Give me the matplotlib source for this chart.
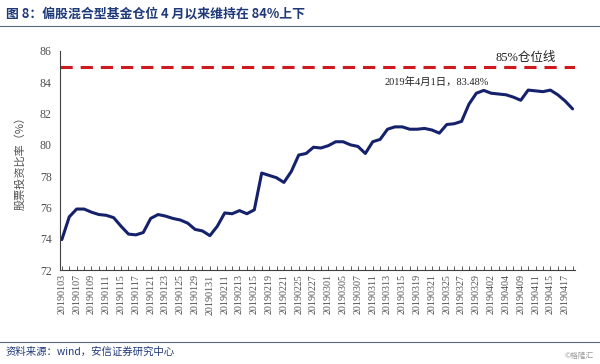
import matplotlib
matplotlib.use("Agg")
import matplotlib.pyplot as plt
from matplotlib.ticker import MultipleLocator

# trading days 2019-01-03 .. 2019-04-18
dates = [
    "20190103", "20190104", "20190107", "20190108", "20190109", "20190110", "20190111",
    "20190114", "20190115", "20190116", "20190117", "20190118", "20190121", "20190122",
    "20190123", "20190124", "20190125", "20190128", "20190129", "20190130", "20190131",
    "20190201", "20190211", "20190212", "20190213", "20190214", "20190215", "20190218",
    "20190219", "20190220", "20190221", "20190222", "20190225", "20190226", "20190227",
    "20190228", "20190301", "20190304", "20190305", "20190306", "20190307", "20190308",
    "20190311", "20190312", "20190313", "20190314", "20190315", "20190318", "20190319",
    "20190320", "20190321", "20190322", "20190325", "20190326", "20190327", "20190328",
    "20190329", "20190401", "20190402", "20190403", "20190404", "20190408", "20190409",
    "20190410", "20190411", "20190412", "20190415", "20190416", "20190417", "20190418",
]
position = [
    73.95, 75.4, 75.9, 75.9, 75.7, 75.55, 75.5,
    75.35, 74.8, 74.3, 74.25, 74.4, 75.3, 75.55,
    75.45, 75.3, 75.2, 75.0, 74.6, 74.5, 74.2,
    74.8, 75.65, 75.6, 75.8, 75.6, 75.85, 78.2,
    78.05, 77.9, 77.6, 78.3, 79.35, 79.45, 79.85,
    79.8, 79.95, 80.2, 80.2, 80.0, 79.9, 79.45,
    80.2, 80.35, 81.0, 81.15, 81.15, 81.0, 81.0,
    81.05, 80.95, 80.75, 81.3, 81.35, 81.5, 82.6,
    83.3, 83.48, 83.3, 83.25, 83.2, 83.05, 82.85,
    83.5, 83.45, 83.4, 83.5, 83.2, 82.8, 82.3,
]
threshold = 85
peak_label = "2019年4月1日，83.48%"
peak_index = dates.index("20190401")

mixed = ["Liberation Serif", "Noto Sans CJK SC"]
cjk = ["Noto Sans CJK SC", "DejaVu Sans"]

fig = plt.figure(figsize=(6, 3.64), dpi=100)
ax = fig.add_axes([0.1, 0.258, 0.858, 0.602])

x = list(range(len(dates)))
ax.plot(x, position, color="#15216b", lw=2.2, solid_joinstyle="round", solid_capstyle="round")
ax.axhline(threshold, color="#d0181f", lw=2.2, dashes=(4, 2.6))

ax.set_ylim(72, 86)
ax.set_xlim(-0.25, len(dates) - 0.7)
ax.yaxis.set_major_locator(MultipleLocator(2))
ax.set_xticks(x[::2])
ax.set_xticklabels(dates[::2], rotation=90, family="Liberation Serif", fontsize=7.2, color="#505050")
ax.set_xticks(x, minor=True)
ax.tick_params(axis="x", which="both", direction="in", length=3, width=0.6, color="#404040", pad=3)
ax.tick_params(axis="y", direction="in", length=0, labelsize=8.5, colors="#505050", pad=6)
for lab in ax.get_yticklabels():
    lab.set_family("Liberation Serif")
for s in ("top", "right"):
    ax.spines[s].set_visible(False)
for s in ("left", "bottom"):
    ax.spines[s].set_color("#404040")
    ax.spines[s].set_linewidth(0.8)

ax.set_ylabel("股票投资比率（%）", family=cjk, fontsize=8, color="#505050", labelpad=10)

ax.text(len(dates) - 7.3, 85.35, "85%仓位线", family=mixed, fontsize=9, ha="center", color="#222222")
ax.text(peak_index - 6.3, 83.85, peak_label, family=mixed, fontsize=7.5, ha="center", color="#222222")

# title, rules and footer
fig.text(0.01, 0.962, "图 8：偏股混合型基金仓位 4 月以来维持在 84%上下", family=cjk,
         fontsize=9.3, fontweight="bold", color="#1f3a78", va="center")
fig.add_artist(plt.Line2D([0.0, 1.0], [0.928, 0.928], color="#5a6a80", lw=0.8))
fig.add_artist(plt.Line2D([0.0, 1.0], [0.06, 0.06], color="#5a6a80", lw=0.8))
fig.text(0.01, 0.033, "资料来源：wind，安信证券研究中心", family=cjk, fontsize=7.5,
         style="italic", color="#1f3a78", va="center")
fig.text(0.99, 0.022, "©格隆汇", family=cjk, fontsize=5.5, color="#999999", ha="right", va="center")

fig.savefig("out.png", dpi=100)
